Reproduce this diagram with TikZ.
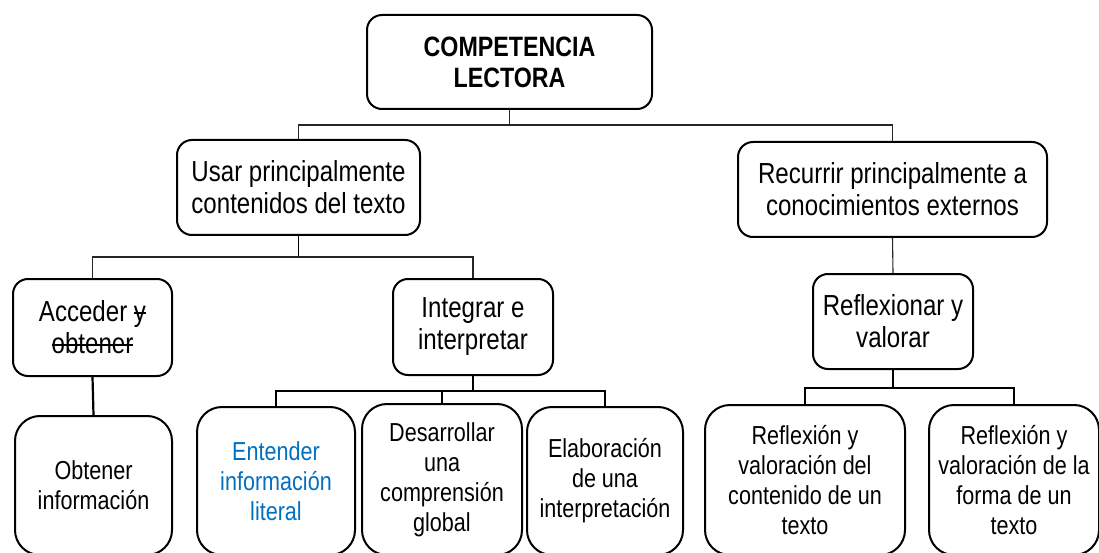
\documentclass[tikz,border=0pt]{standalone}
\usepackage{fontspec}
\setmainfont{Liberation Sans}[FakeStretch=0.83]
\newcommand\mystrike[1]{\leavevmode\setbox0\hbox{#1}\rlap{\rule[0.27em]{\wd0}{0.07em}}\box0}
\definecolor{litblue}{RGB}{0,112,192}
\tikzset{
  box/.style={draw, line width=2pt, rounded corners=15pt, align=center, inner sep=0pt},
  lvl/.style={box, font=\fontsize{29}{32}\selectfont},
  leaf/.style={box, rounded corners=25pt, font=\fontsize{26}{30}\selectfont},
  thin/.style={line width=1.1pt, black!85},
  thick/.style={line width=2.2pt}
}
\begin{document}
\begin{tikzpicture}[x=1pt,y=-1pt]
\useasboundingbox (0,0) rectangle (1099,553);
% level 0
\node[box, minimum width=285pt, minimum height=94pt, font=\bfseries\fontsize{28}{31}\selectfont] (top) at (509.5,62) {COMPETENCIA\\LECTORA};
% level 1
\node[lvl, minimum width=243pt, minimum height=95pt] (usar) at (298.5,187.5) {Usar principalmente\\contenidos del texto};
\node[lvl, minimum width=309pt, minimum height=95pt] (recurrir) at (892.5,189.5) {Recurrir principalmente a\\conocimientos externos};
% level 2
\node[lvl, minimum width=159pt, minimum height=97pt] (acceder) at (92.5,327.5) {Acceder \mystrike{y}\\\mystrike{obtener}};
\node[lvl, minimum width=160pt, minimum height=96pt] (integrar) at (473,327) {Integrar e\\interpretar};
\node[lvl, minimum width=160pt, minimum height=95pt] (reflex) at (893,321.5) {Reflexionar y\\valorar};
% leaves
\node[leaf, minimum width=157pt, minimum height=139pt] (obtener) at (93.5,485.5) {Obtener\\información};
\node[leaf, minimum width=158pt, minimum height=148pt, text=litblue] (entender) at (276,481) {Entender\\información\\literal};
\node[leaf, minimum width=160pt, minimum height=151pt] (desarrollar) at (442,479.5) {Desarrollar\\una\\comprensión\\global};
\node[leaf, minimum width=156pt, minimum height=148pt] (elaboracion) at (605,481) {Elaboración\\de una\\interpretación};
\node[leaf, minimum width=200pt, minimum height=150pt] (contenido) at (805,480) {Reflexión y\\valoración del\\contenido de un\\texto};
\node[leaf, minimum width=170pt, minimum height=150pt] (forma) at (1014,480) {Reflexión y\\valoración de la\\forma de un\\texto};
% junctions
\coordinate (j0) at (509.5,125);
\coordinate (j1) at (298.5,257);
\coordinate (j2) at (473,391);
\coordinate (j3) at (893,388);
% connectors
\draw[thin] (top.south) -- (j0);
\draw[thin] (j0) -| (usar.north);
\draw[thin] (j0) -| (recurrir.north);
\draw[thick, line width=1.8pt] (usar.south) -- (j1);
\draw[thin] (j1) -| (acceder.north);
\draw[thin] (j1) -| (integrar.north);
\draw[thin] (recurrir.south) -- (reflex.north);
\draw[thick] (acceder.south) -- (obtener.north);
\draw[thick] (integrar.south) -- (j2);
\draw[thick] (j2) -| (entender.north);
\draw[thick] (j2) -| (desarrollar.north);
\draw[thick] (j2) -| (elaboracion.north);
\draw[thick] (reflex.south) -- (j3);
\draw[thick] (j3) -| (contenido.north);
\draw[thick] (j3) -| (forma.north);
\end{tikzpicture}
\end{document}
